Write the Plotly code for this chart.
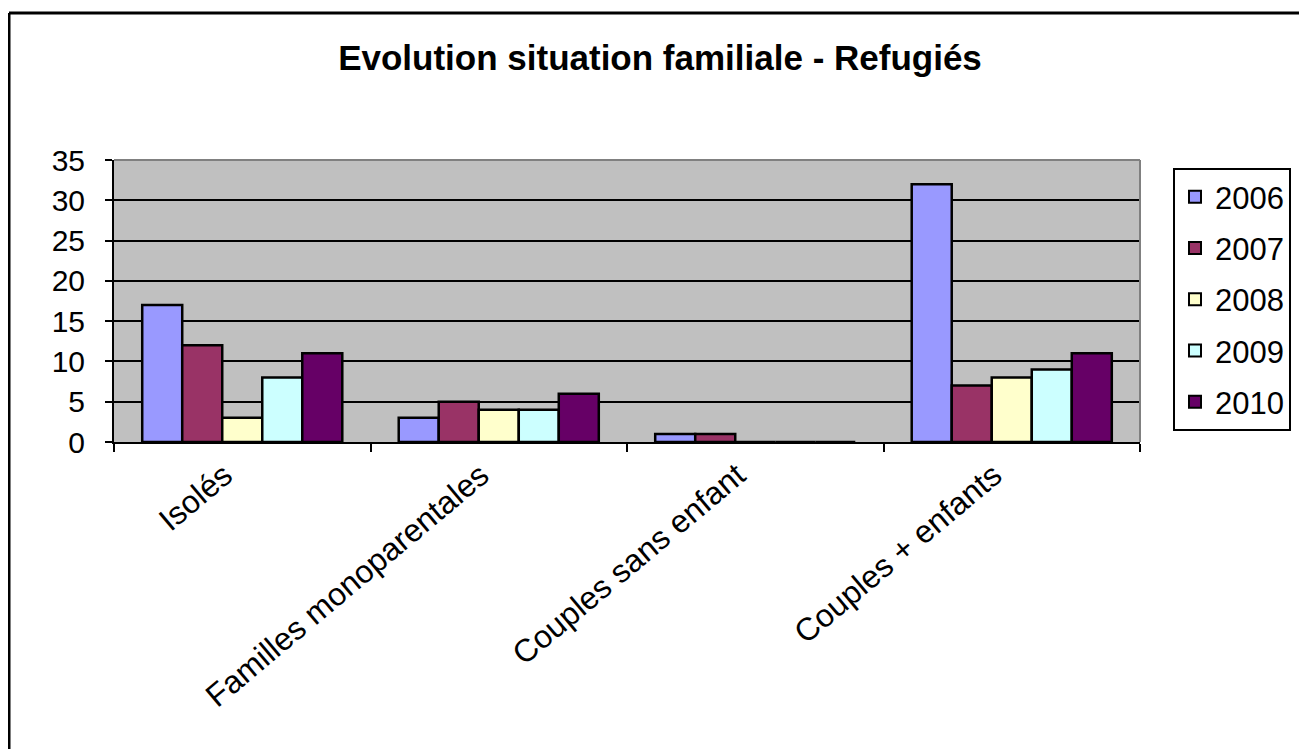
import plotly.graph_objects as go

categories = ["Isolés", "Familles monoparentales", "Couples sans enfant", "Couples + enfants"]
years = ["2006", "2007", "2008", "2009", "2010"]
v2006 = [17, 3, 1, 32]
v2007 = [12, 5, 1, 7]
v2008 = [3, 4, 0, 8]
v2009 = [8, 4, 0, 9]
v2010 = [11, 6, 0, 11]
series = [v2006, v2007, v2008, v2009, v2010]
colors = ["#9999FF", "#993366", "#FFFFCC", "#CCFFFF", "#660066"]
yticks = [0, 5, 10, 15, 20, 25, 30, 35]

FONT = "Liberation Sans, Arial, sans-serif"

fig = go.Figure()
for name, vals, col in zip(years, series, colors):
    fig.add_trace(go.Bar(
        x=categories, y=vals, name=name, legendgroup=name,
        marker=dict(color=col, line=dict(color="black", width=2.5)),
    ))

# page has an 8px body margin: work in page pixels
OFF = 8
VW, VH = 1307, 749
W, H = VW - OFF, VH - OFF
L, R, T, B = 114, 1140, 160, 442   # plot area in page pixels

def px_x(p):
    return (p - L) / (R - L)

def px_y(p):
    return (B - p) / (B - T)

fig.update_layout(
    width=W, height=H,
    margin=dict(l=L - OFF, r=VW - R, t=T - OFF, b=VH - B),
    paper_bgcolor="white",
    plot_bgcolor="#C0C0C0",
    barmode="group", bargap=0.22, bargroupgap=0,
    font=dict(family=FONT, color="black", size=30),
    title=dict(text="<b>Evolution situation familiale - Refugiés</b>",
               x=(660 - OFF) / W, xanchor="center", y=1 - (58 - OFF) / H, yanchor="middle",
               font=dict(family=FONT, size=35, color="black")),
    legend=dict(x=px_x(1173), xanchor="left", y=px_y(168), yanchor="top",
                bgcolor="white", bordercolor="black", borderwidth=2,
                font=dict(family=FONT, size=31, color="black"),
                tracegroupgap=8, itemsizing="constant"),
    showlegend=True,
)
fig.update_xaxes(
    showline=True, linecolor="black", linewidth=2,
    ticks="outside", tickson="boundaries", ticklen=8, tickwidth=2, tickcolor="black",
    tickangle=-40, tickfont=dict(family=FONT, size=32, color="black"),
    ticklabelshift=-18,
    showgrid=False, mirror=False,
)
fig.update_yaxes(
    range=[0, 35], tickvals=yticks, ticktext=[str(v) for v in yticks],
    showline=True, linecolor="black", linewidth=2,
    ticks="outside", ticklen=7, tickwidth=2, tickcolor="black",
    tickfont=dict(family=FONT, size=30, color="black"),
    ticklabelstandoff=14,
    showgrid=True, gridcolor="black", gridwidth=2,
    zeroline=False,
)
# plot area top/right border (grey)
fig.add_shape(type="line", xref="paper", yref="paper", x0=0, x1=1, y0=1, y1=1,
              line=dict(color="#808080", width=2))
fig.add_shape(type="line", xref="paper", yref="paper", x0=1, x1=1, y0=0, y1=1,
              line=dict(color="#808080", width=2))
# outer chart frame (top and left)
fig.add_shape(type="line", xref="paper", yref="paper",
              x0=px_x(9), x1=px_x(1320), y0=px_y(13), y1=px_y(13),
              line=dict(color="black", width=3))
fig.add_shape(type="line", xref="paper", yref="paper",
              x0=px_x(9), x1=px_x(9), y0=px_y(13), y1=px_y(760),
              line=dict(color="black", width=3))

fig.write_html("out.html")
